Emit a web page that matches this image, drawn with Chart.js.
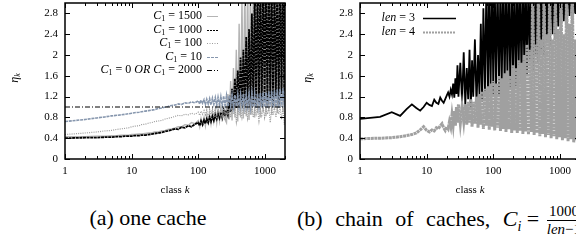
<!DOCTYPE html>
<html>
<head>
<meta charset="utf-8">
<script src="https://cdn.jsdelivr.net/npm/chart.js@4.4.0/dist/chart.umd.min.js"></script>
<style>
  html, body { margin: 0; padding: 0; background: #fff; }
  body { width: 576px; height: 242px; overflow: hidden; position: relative; font-family: "Liberation Serif", "DejaVu Serif", serif; color: #000; }
  #chartA { position: absolute; left: 0; top: 0; }
  #chartB { position: absolute; left: 290px; top: 0; }
  .cap { position: absolute; top: 204px; font-size: 22px; line-height: 28px; white-space: nowrap; }
  #capA { left: 0; width: 296px; text-align: center; }
  #capB { left: 297px; }
  #capB .words { word-spacing: 7px; }
  .frac { display: inline-block; vertical-align: middle; text-align: center; font-size: 15px; line-height: 15px; margin-left: 2px; }
  .frac .num { display: block; border-bottom: 1px solid #000; padding: 0 1px 1px; }
  .frac .den { display: block; padding-top: 1px; }
</style>
</head>
<body>
<canvas id="chartA" width="290" height="200"></canvas>
<canvas id="chartB" width="300" height="200"></canvas>
<div class="cap" id="capA">(a) one cache</div>
<div class="cap" id="capB"><span class="words">(b) chain of caches, </span><i>C</i><sub style="font-size:14px;font-style:italic">i</sub> = <span class="frac"><span class="num">1000</span><span class="den"><i>len</i>&minus;1</span></span></div>
<script>
// axis ticks
var xTicks = [1, 10, 100, 1000];
var xTickLabels = ["1", "10", "100", "1000"];
var yTicks = [0, 0.4, 0.8, 1.2, 1.6, 2, 2.4, 2.8];
var yTickLabels = ["0", "0.4", "0.8", "1.2", "1.6", "2", "2.4", "2.8"];

// (a) one cache: class k and eta_k per C1
var kA = [1,2,3,4,5,6,7,8,9,10,11,13,14,16,18,20,22,25,28,32,35,40,45,50,56,63,71,79,89,
  100,105,110,116,122,128,134,141,148,155,163,171,180,189,198,208,218,229,240,252,
  265,278,292,306,321,337,354,372,391,410,431,452,475,499,524,550,578,607,637,669,
  702,737,774,813,853,896,941,988,1037,1089,1144,1201,1261,1324,1390,1460,1533,1610,1690,1775,
  1864,1957,2000];

var c1500 = [0.43,0.43,0.44,0.44,0.45,0.45,0.46,0.46,0.46,0.47,0.47,0.48,0.48,0.49,0.50,0.50,0.52,0.52,0.54,0.55,
  0.57,0.58,0.60,0.62,0.62,0.66,0.65,0.70,0.68,
  0.74,0.62,0.78,0.66,0.80,0.64,0.84,0.70,0.86,0.68,
  0.90,0.72,0.92,0.70,0.95,0.74,0.98,0.72,1.02,0.76,
  0.70,1.25,0.76,1.50,0.74,1.75,0.80,2.10,0.72,2.60,
  0.80,3.10,0.78,3.40,0.82,3.50,0.75,3.50,0.85,3.50,
  0.80,3.50,0.88,3.50,0.80,3.50,0.90,3.50,0.82,3.50,
  0.92,3.50,0.85,3.50,0.95,3.50,0.88,3.50,0.98,3.50,
  0.90,3.50,0.95];

var c1000 = [0.40,0.41,0.41,0.42,0.42,0.43,0.43,0.44,0.44,0.44,0.45,0.45,0.46,0.46,0.47,0.48,0.49,0.50,0.51,0.53,
  0.54,0.56,0.58,0.57,0.61,0.60,0.64,0.62,0.67,
  0.70,0.64,0.73,0.66,0.75,0.68,0.77,0.70,0.80,0.72,
  0.82,0.74,0.85,0.77,0.87,0.79,0.90,0.80,0.93,0.82,
  0.95,0.85,1.10,0.90,1.35,0.95,1.55,0.98,1.70,1.00,
  1.95,1.02,2.10,1.00,2.35,1.05,2.50,1.00,2.80,1.05,
  3.20,1.00,3.40,1.08,3.50,1.00,3.50,1.10,3.50,1.05,
  3.50,1.15,3.50,1.00,3.50,1.20,3.50,1.05,3.50,1.25,
  3.50,1.10,3.50];

var c100 = [0.47,0.50,0.52,0.54,0.55,0.57,0.58,0.59,0.60,0.62,0.63,0.64,0.66,0.67,0.69,0.70,0.72,0.73,0.74,0.77,
  0.78,0.80,0.82,0.84,0.83,0.86,0.85,0.88,0.86,
  0.90,0.84,0.92,0.86,0.93,0.85,0.94,0.80,0.95,0.86,
  0.96,0.84,0.97,0.78,0.96,0.86,0.98,0.82,0.97,0.75,
  0.98,0.85,0.97,0.80,0.98,0.86,0.97,0.72,0.98,0.84,
  0.97,0.80,0.99,0.86,0.97,0.78,0.98,0.85,0.99,0.80,
  0.98,0.86,0.99,0.74,0.98,0.84,0.99,0.80,0.98,0.86,
  0.99,0.70,0.98,0.84,0.99,0.80,0.98,0.86,0.99,0.76,
  0.98,0.66,0.95];

var c10 = [0.72,0.76,0.79,0.81,0.83,0.84,0.85,0.86,0.87,0.88,0.89,0.90,0.91,0.92,0.93,0.94,0.95,0.97,0.98,1.00,
  1.01,1.03,1.04,1.06,1.05,1.08,1.07,1.10,1.08,
  1.12,1.06,1.13,1.07,1.14,1.05,1.15,1.06,1.16,1.04,
  1.17,1.05,1.18,1.03,1.19,1.04,1.20,1.02,1.21,1.03,
  1.22,1.01,1.22,1.02,1.23,1.00,1.23,1.01,1.24,1.00,
  1.24,1.02,1.25,1.00,1.24,1.01,1.25,0.99,1.26,1.00,
  1.25,0.98,1.26,1.00,1.27,0.99,1.28,1.00,1.28,0.98,
  1.30,1.00,1.31,0.99,1.32,1.00,1.34,0.98,1.35,1.00,
  1.36,0.99,1.30];

var kFlat = [1, 2000];
var cFlat = [1, 1];

// (b) chain of caches
var kB = [1,2,3,4,5,6,7,8,9,10,11,12,13,14,15,16,17,18,19,20,21,22,23,24,25,26,27,28,29,30,
  32,34,36,38,40,42,44,46,48,50,53,56,59,62,65,68,71,75,79,83,87,91,96,
  100,105,110,116,122,128,134,141,148,155,163,171,180,189,198,208,218,229,240,252,
  265,278,292,306,321,337,354,372,391,410,431,452,475,499,524,550,578,607,637,669,
  702,737,774,813,853,896,941,988,1037,1089,1144,1201,1261,1324,1390,1460,1533,1610,1690,1775,
  1864,1957,2000];

var len3 = [0.77,0.81,0.90,0.83,0.96,1.05,0.98,0.93,1.00,1.08,1.04,1.02,1.14,1.08,1.06,1.18,1.12,1.08,1.15,1.22,
  1.28,1.20,1.33,1.24,1.45,1.18,1.55,1.25,1.80,1.20,
  1.85,1.10,2.05,1.05,1.75,1.15,2.10,1.00,1.90,1.20,
  2.30,1.05,2.00,1.25,2.60,1.10,2.90,1.30,3.50,1.15,
  3.50,1.35,3.50,
  1.25,3.50,1.40,3.50,1.20,3.50,1.45,3.50,1.30,3.50,
  1.50,3.50,1.35,3.50,1.55,3.50,1.40,3.50,1.65,3.50,
  1.50,3.50,1.75,3.50,1.60,3.50,1.90,3.50,1.70,3.50,
  2.00,3.50,1.85,3.50,2.10,3.50,2.00,3.50,2.30,3.50,
  2.15,3.50,2.40,3.50,2.30,3.50,2.55,3.50,2.45,3.50,
  2.65,3.50,2.55,3.50,2.75,3.50,2.65,3.50,2.80,3.50,
  2.70,3.50,2.85];

var len4 = [0.39,0.40,0.41,0.43,0.45,0.47,0.50,0.56,0.62,0.55,0.52,0.56,0.54,0.60,0.58,0.64,0.68,0.60,0.55,0.62,
  0.58,0.72,0.62,0.85,0.66,0.92,0.64,1.00,0.70,1.05,
  0.68,1.00,0.72,1.05,0.66,1.10,0.70,1.15,0.62,1.10,
  0.68,1.20,0.60,1.25,0.66,1.30,0.58,1.35,0.64,1.40,
  0.56,1.45,0.62,
  1.50,0.55,1.45,0.60,1.60,0.54,1.55,0.58,1.65,0.52,
  1.70,0.57,1.60,0.50,1.80,0.55,1.75,0.50,1.90,0.54,
  1.85,0.48,2.00,0.53,2.20,0.47,2.10,0.52,3.50,0.46,
  2.20,0.50,3.50,0.44,2.30,0.48,3.50,0.42,2.40,0.46,
  3.50,0.40,2.30,0.44,3.50,0.38,2.50,0.42,3.50,0.36,
  2.40,0.40,3.50,0.34,2.60,0.38,3.50,0.32,2.30,0.36,
  3.50,0.30,2.50];

function pts(ks, vs) {
  return ks.map(function (k, i) { return { x: k, y: vs[i] }; });
}

var SERIF = '"Liberation Serif", "DejaVu Serif", serif';

// draws a run of text pieces: r roman, i italic, s italic subscript, n roman subscript
function mathText(ctx, parts, x, y, align, size) {
  var fonts = {
    r: size + "px " + SERIF,
    i: "italic " + size + "px " + SERIF,
    s: "italic " + Math.round(size * 0.7) + "px " + SERIF,
    n: Math.round(size * 0.7) + "px " + SERIF
  };
  var w = 0;
  parts.forEach(function (p) { ctx.font = fonts[p[1]]; w += ctx.measureText(p[0]).width; });
  var cx = align === "right" ? x - w : align === "center" ? x - w / 2 : x;
  parts.forEach(function (p) {
    ctx.font = fonts[p[1]];
    var dy = (p[1] === "s" || p[1] === "n") ? size * 0.28 : 0;
    ctx.fillText(p[0], cx, y + dy);
    cx += ctx.measureText(p[0]).width;
  });
}

var decor = {
  id: "decor",
  afterDatasetsDraw: function (chart, args, o) {
    var ctx = chart.ctx, a = chart.chartArea, xs = chart.scales.x, ys = chart.scales.y;
    ctx.save();
    ctx.strokeStyle = "#000";
    ctx.lineWidth = 1;
    ctx.setLineDash([]);
    ctx.beginPath();
    // inward log ticks on bottom and top
    for (var d = 1; d <= 1000; d *= 10) {
      for (var m = 1; m <= 9; m++) {
        var v = d * m;
        if (v > 2000) break;
        var px = Math.round(xs.getPixelForValue(v)) + 0.5;
        var len = m === 1 ? 5 : 3;
        ctx.moveTo(px, a.bottom); ctx.lineTo(px, a.bottom - len);
        ctx.moveTo(px, a.top); ctx.lineTo(px, a.top + len);
      }
    }
    yTicks.forEach(function (v) {
      var py = Math.round(ys.getPixelForValue(v)) + 0.5;
      ctx.moveTo(a.left, py); ctx.lineTo(a.left + 5, py);
      ctx.moveTo(a.right, py); ctx.lineTo(a.right - 5, py);
    });
    ctx.stroke();
    ctx.lineWidth = 1.5;
    ctx.strokeRect(a.left, a.top, a.right - a.left, a.bottom - a.top);

    // legend
    ctx.fillStyle = "#000";
    ctx.textBaseline = "middle";
    o.legend.forEach(function (e) {
      mathText(ctx, e.parts, o.textRight, e.y, "right", 12);
      ctx.beginPath();
      ctx.strokeStyle = e.color;
      ctx.lineWidth = e.width;
      ctx.setLineDash(e.dash);
      ctx.moveTo(o.sample[0], e.y + 0.5);
      ctx.lineTo(o.sample[1], e.y + 0.5);
      ctx.stroke();
    });
    ctx.setLineDash([]);

    // axis titles
    ctx.fillStyle = "#000";
    mathText(ctx, [["class ", "r"], ["k", "i"]], (a.left + a.right) / 2, 190, "center", 11);
    ctx.translate(o.yTitleX, 78);
    ctx.rotate(-Math.PI / 2);
    mathText(ctx, [["\u03b7", "i"], ["k", "s"]], 0, 0, "center", 12);
    ctx.restore();
  }
};

function makeOptions(yWidth, padRight, extra) {
  return {
    responsive: false,
    animation: false,
    events: [],
    layout: { padding: { top: 3, right: padRight, left: 0, bottom: 0 } },
    plugins: { legend: { display: false }, tooltip: { enabled: false }, decor: extra },
    elements: { point: { radius: 0 }, line: { tension: 0 } },
    scales: {
      x: {
        type: "logarithmic",
        min: 1,
        max: 2000,
        grid: { display: false, drawTicks: false },
        border: { display: false },
        afterBuildTicks: function (s) { s.ticks = xTicks.map(function (v) { return { value: v }; }); },
        afterFit: function (s) { s.height = 41; s.paddingLeft = 0; s.paddingRight = 0; },
        ticks: {
          autoSkip: false,
          maxRotation: 0,
          padding: 6,
          color: "#000",
          font: { family: SERIF, size: 11 },
          callback: function (v) { return xTickLabels[xTicks.indexOf(v)]; }
        }
      },
      y: {
        type: "linear",
        min: 0,
        max: 3,
        grid: { display: false, drawTicks: false },
        border: { display: false },
        afterBuildTicks: function (s) { s.ticks = yTicks.map(function (v) { return { value: v }; }); },
        afterFit: function (s) { s.width = yWidth; s.paddingTop = 0; s.paddingBottom = 0; },
        ticks: {
          padding: 7,
          color: "#000",
          font: { family: SERIF, size: 11 },
          callback: function (v) { return yTickLabels[yTicks.indexOf(v)]; }
        }
      }
    }
  };
}

function line(label, ks, vs, color, width, dash, order) {
  return {
    label: label,
    data: pts(ks, vs),
    borderColor: color,
    backgroundColor: color,
    borderWidth: width,
    borderDash: dash,
    fill: false,
    clip: 0,
    order: order
  };
}

var colA = { c1500: "#b4b4b4", c1000: "#000000", c100: "#9c9c9c", c10: "#8797ae", flat: "#000000" };

new Chart(document.getElementById("chartA"), {
  type: "line",
  data: {
    datasets: [
      line("C1 = 1500", kA, c1500, colA.c1500, 1.4, [], 5),
      line("C1 = 1000", kA, c1000, colA.c1000, 1.8, [3, 0.6], 4),
      line("C1 = 100", kA, c100, colA.c100, 1.2, [1, 1.2], 3),
      line("C1 = 10", kA, c10, colA.c10, 1.6, [3, 0.8], 2),
      line("C1 = 0 OR C1 = 2000", kFlat, cFlat, colA.flat, 1, [5, 2, 1, 2], 1)
    ]
  },
  options: makeOptions(65, 5, {
    textRight: 202,
    sample: [207, 218],
    yTitleX: 15,
    legend: [
      { y: 16, color: colA.c1500, width: 1, dash: [], parts: [["C", "i"], ["1", "n"], [" = 1500", "r"]] },
      { y: 30, color: colA.c1000, width: 1.2, dash: [2, 1], parts: [["C", "i"], ["1", "n"], [" = 1000", "r"]] },
      { y: 43, color: colA.c100, width: 1, dash: [1, 1.5], parts: [["C", "i"], ["1", "n"], [" = 100", "r"]] },
      { y: 57, color: colA.c10, width: 1, dash: [3, 1], parts: [["C", "i"], ["1", "n"], [" = 10", "r"]] },
      { y: 70, color: colA.flat, width: 1, dash: [5, 2, 1, 2], parts: [["C", "i"], ["1", "n"], [" = 0 ", "r"], ["OR ", "i"], ["C", "i"], ["1", "n"], [" = 2000", "r"]] }
    ]
  }),
  plugins: [decor]
});

var colB = { len3: "#000000", len4: "#a0a0a0" };

// legend for (b) is positioned relative to its own canvas (left 290)
new Chart(document.getElementById("chartB"), {
  type: "line",
  data: {
    datasets: [
      line("len = 3", kB, len3, colB.len3, 1.8, [], 2),
      line("len = 4", kB, len4, colB.len4, 3, [3, 0.6], 1)
    ]
  },
  options: makeOptions(70, 10, {
    textRight: 125,
    sample: [133, 166],
    yTitleX: 18,
    legend: [
      { y: 18, color: colB.len3, width: 1.5, dash: [], parts: [["len", "i"], [" = 3", "r"]] },
      { y: 32, color: colB.len4, width: 2, dash: [2, 1], parts: [["len", "i"], [" = 4", "r"]] }
    ]
  }),
  plugins: [decor]
});
</script>
</body>
</html>
